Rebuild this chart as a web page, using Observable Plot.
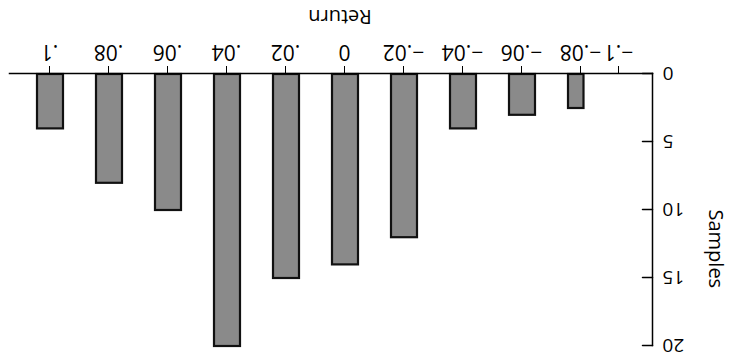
<!DOCTYPE html>
<html><head><meta charset="utf-8">
<script src="https://cdn.jsdelivr.net/npm/d3@7"></script>
<script src="https://cdn.jsdelivr.net/npm/@observablehq/plot@0.6"></script>
<style>
html,body{margin:0;padding:0;background:#fff;}
#chart svg{display:block;transform:rotate(180deg);}
</style></head><body><div id="chart"></div>
<script>
// Histogram of returns (the reference picture is printed upside down)
const returns = [-0.08, -0.06, -0.04, -0.02, 0, 0.02, 0.04, 0.06, 0.08, 0.1];
const samples = [2.5, 3, 4, 12, 14, 15, 20, 10, 8, 4];
const xTickValues = [-0.1, -0.08, -0.06, -0.04, -0.02, 0, 0.02, 0.04, 0.06, 0.08, 0.1];
const xTickLabels = ["−.1", "−.08", "−.06", "−.04", "−.02", "0", ".02", ".04", ".06", ".08", ".1"];
const yTickValues = [0, 5, 10, 15, 20];
const binWidth = 0.02;

const data = returns.map((r, i) => ({r, n: samples[i]}));
const inwardTick = {draw(context, l) { context.moveTo(0, 0); context.lineTo(l, 0); }};

const chart = Plot.plot({
  width: 739, height: 358,
  marginLeft: 86, marginRight: 10, marginTop: 12, marginBottom: 74,
  style: {fontFamily: "'Open Sans', sans-serif", fontSize: "20px", color: "#000", background: "#fff"},
  x: {type: "linear", domain: [-0.1, -0.08, 0.1], range: [120, 158, 689]},
  y: {domain: [0, 20]},
  marks: [
    Plot.rectY(data, {
      x1: d => d.r - binWidth / 2, x2: d => d.r + binWidth / 2,
      y1: 0, y2: "n",
      insetLeft: 16.5, insetRight: 16.5,
      fill: "#8a8a8a", stroke: "#111", strokeWidth: 2.2
    }),
    Plot.frame({anchor: "left", strokeWidth: 1.5}),
    Plot.frame({anchor: "bottom", strokeWidth: 1.5}),
    Plot.axisX({ticks: xTickValues, tickFormat: d => xTickLabels[xTickValues.indexOf(d)], tickSize: 8, tickPadding: 6, fontSize: 21, label: null}),
    // inward ticks on the Samples axis
    Plot.vector(yTickValues, {y: d => d, frameAnchor: "left", anchor: "start", length: 10, shape: inwardTick, stroke: "#000", strokeWidth: 1.5}),
    Plot.axisY({ticks: yTickValues, tickSize: 0, tickPadding: 10, fontSize: 19, label: null}),
    Plot.text(["Return"], {frameAnchor: "bottom", dy: 64, dx: -9, fontSize: 20}),
    Plot.text(["Samples"], {frameAnchor: "left", dx: -63, rotate: -90, fontSize: 20})
  ]
});
document.getElementById("chart").appendChild(chart);
</script></body></html>
